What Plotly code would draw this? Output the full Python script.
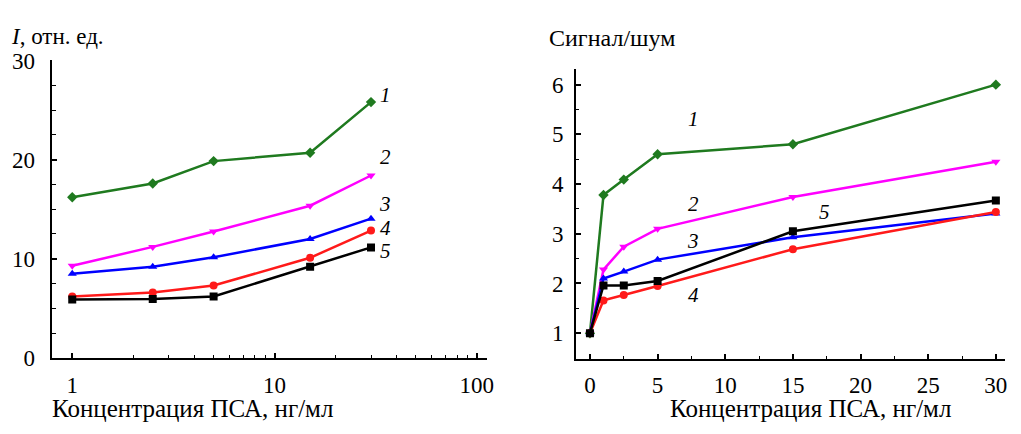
import plotly.graph_objects as go

# ---------------- data ----------------
conc_a = [1, 2.5, 5, 15, 30]
a_s1 = [16.2, 17.6, 19.85, 20.7, 25.8]
a_s2 = [9.3, 11.2, 12.75, 15.35, 18.4]
a_s3 = [8.5, 9.2, 10.15, 12.0, 14.05]
a_s4 = [6.2, 6.6, 7.3, 10.1, 12.85]
a_s5 = [5.9, 5.95, 6.2, 9.2, 11.15]

conc_b = [0, 1, 2.5, 5, 15, 30]
b_s1 = [1.0, 3.78, 4.09, 4.6, 4.8, 6.0]
b_s2 = [1.0, 2.28, 2.74, 3.1, 3.74, 4.45]
b_s3 = [1.0, 2.1, 2.24, 2.48, 2.93, 3.41]
b_s4 = [1.0, 1.66, 1.77, 1.95, 2.69, 3.44]
b_s5 = [1.0, 1.96, 1.96, 2.05, 3.05, 3.67]

series_names = ["1", "2", "3", "4", "5"]
colors = ["#1f7a1f", "#ff00ff", "#0000ff", "#ff1a1a", "#000000"]
symbols = ["diamond", "triangle-down", "triangle-up", "circle", "square"]

# the page body adds an 8 px margin, so the figure is 8 px smaller than the window
OFF = 8
W, H = 1021 - OFF, 434 - OFF
FONT = "Liberation Serif"

fig = go.Figure()

for ys, name, c, s in zip([a_s1, a_s2, a_s3, a_s4, a_s5], series_names, colors, symbols):
    fig.add_trace(go.Scatter(x=conc_a, y=ys, mode="lines+markers", name=name,
                             line=dict(color=c, width=2.5),
                             marker=dict(symbol=s, size=8, color=c),
                             xaxis="x", yaxis="y", showlegend=False))
for ys, name, c, s in zip([b_s1, b_s2, b_s3, b_s4, b_s5], series_names, colors, symbols):
    fig.add_trace(go.Scatter(x=conc_b, y=ys, mode="lines+markers", name=name,
                             line=dict(color=c, width=2.5),
                             marker=dict(symbol=s, size=8, color=c),
                             xaxis="x2", yaxis="y2", showlegend=False))


def px_x(p):
    return (p - OFF) / W


def px_y(p):
    return 1 - (p - OFF) / H


tickfont = dict(family=FONT, size=23, color="black")

fig.update_layout(
    width=W, height=H,
    margin=dict(l=0, r=0, t=0, b=0),
    paper_bgcolor="white", plot_bgcolor="white",
    font=dict(family=FONT, color="black"),
    xaxis=dict(type="log", domain=[px_x(52), px_x(490)], range=[-0.1016, 2.049],
               anchor="y", showline=True, linecolor="black", linewidth=2,
               showgrid=False, zeroline=False,
               tickvals=[1, 10, 100], ticktext=["1", "10", "100"],
               ticks="inside", ticklen=5, tickwidth=1.5, tickcolor="black",
               minor=dict(tickvals=[2, 3, 4, 5, 6, 7, 8, 9, 20, 30, 40, 50, 60, 70, 80, 90],
                          ticks="inside", ticklen=3, tickwidth=1.2, tickcolor="black"),
               tickfont=tickfont, ticklabelstandoff=5),
    yaxis=dict(domain=[px_y(367), px_y(51)], range=[0, 30], anchor="x",
               showline=True, linecolor="black", linewidth=2,
               showgrid=False, zeroline=False,
               tickvals=[0, 10, 20, 30],
               ticks="inside", ticklen=5, tickwidth=1.5, tickcolor="black",
               minor=dict(dtick=2.5, ticks="inside", ticklen=4, tickwidth=1.2, tickcolor="black"),
               tickfont=tickfont, ticklabelstandoff=10),
    xaxis2=dict(domain=[px_x(580), px_x(1012)], range=[-1.028, 30.68], anchor="y2",
                showline=True, linecolor="black", linewidth=2,
                showgrid=False, zeroline=False,
                tickvals=[0, 5, 10, 15, 20, 25, 30],
                ticks="inside", ticklen=5, tickwidth=1.5, tickcolor="black",
                minor=dict(dtick=2.5, tick0=0, ticks="inside", ticklen=3, tickwidth=1.2, tickcolor="black"),
                tickfont=tickfont, ticklabelstandoff=5),
    yaxis2=dict(domain=[px_y(367.7), px_y(60)], range=[0.489, 6.316], anchor="x2",
                showline=True, linecolor="black", linewidth=2,
                showgrid=False, zeroline=False,
                tickvals=[1, 2, 3, 4, 5, 6],
                ticks="inside", ticklen=5, tickwidth=1.5, tickcolor="black",
                minor=dict(dtick=0.5, tick0=0, ticks="inside", ticklen=3, tickwidth=1.2, tickcolor="black"),
                tickfont=tickfont, ticklabelstandoff=6),
)

ann = []
lab_font = dict(family=FONT, size=21, color="black")
# curve labels panel a (x in log10 units)
a_lab = [(1.548, 26.5), (1.548, 20.3), (1.548, 15.5), (1.548, 13.1), (1.548, 10.8)]
for (lx, ly), t in zip(a_lab, series_names):
    ann.append(dict(x=lx, y=ly, xref="x", yref="y", text=f"<i>{t}</i>", showarrow=False,
                    font=lab_font, xanchor="center", yanchor="middle"))
ann.append(dict(x=1.229, y=31.05, xref="x", yref="y", text="<i>а</i>", showarrow=False,
                font=lab_font, xanchor="center", yanchor="middle"))
# curve labels panel b
b_lab = [(7.63, 5.31), (7.63, 3.59), (7.63, 2.85), (7.63, 1.77), (17.3, 3.43)]
for (lx, ly), t in zip(b_lab, series_names):
    ann.append(dict(x=lx, y=ly, xref="x2", yref="y2", text=f"<i>{t}</i>", showarrow=False,
                    font=lab_font, xanchor="center", yanchor="middle"))
ann.append(dict(x=21.7, y=6.75, xref="x2", yref="y2", text="<i>б</i>", showarrow=False,
                font=lab_font, xanchor="center", yanchor="middle"))

ann.append(dict(x=px_x(9), y=px_y(25), xref="paper", yref="paper", text="<i>I</i>, отн. ед.",
                showarrow=False, font=dict(family=FONT, size=23, color="black"),
                xanchor="left", yanchor="middle"))
ann.append(dict(x=px_x(551), y=px_y(27), xref="paper", yref="paper", text="Сигнал/шум",
                showarrow=False, font=dict(family=FONT, size=24, color="black"),
                xanchor="left", yanchor="middle"))
xt_font = dict(family=FONT, size=25, color="black")
ann.append(dict(x=px_x(50), y=px_y(421), xref="paper", yref="paper", text="Концентрация ПСА, нг/мл",
                showarrow=False, font=xt_font, xanchor="left", yanchor="middle"))
ann.append(dict(x=px_x(673), y=px_y(421), xref="paper", yref="paper", text="Концентрация ПСА, нг/мл",
                showarrow=False, font=xt_font, xanchor="left", yanchor="middle"))

fig.update_layout(annotations=ann)
fig.write_html("out.html")
